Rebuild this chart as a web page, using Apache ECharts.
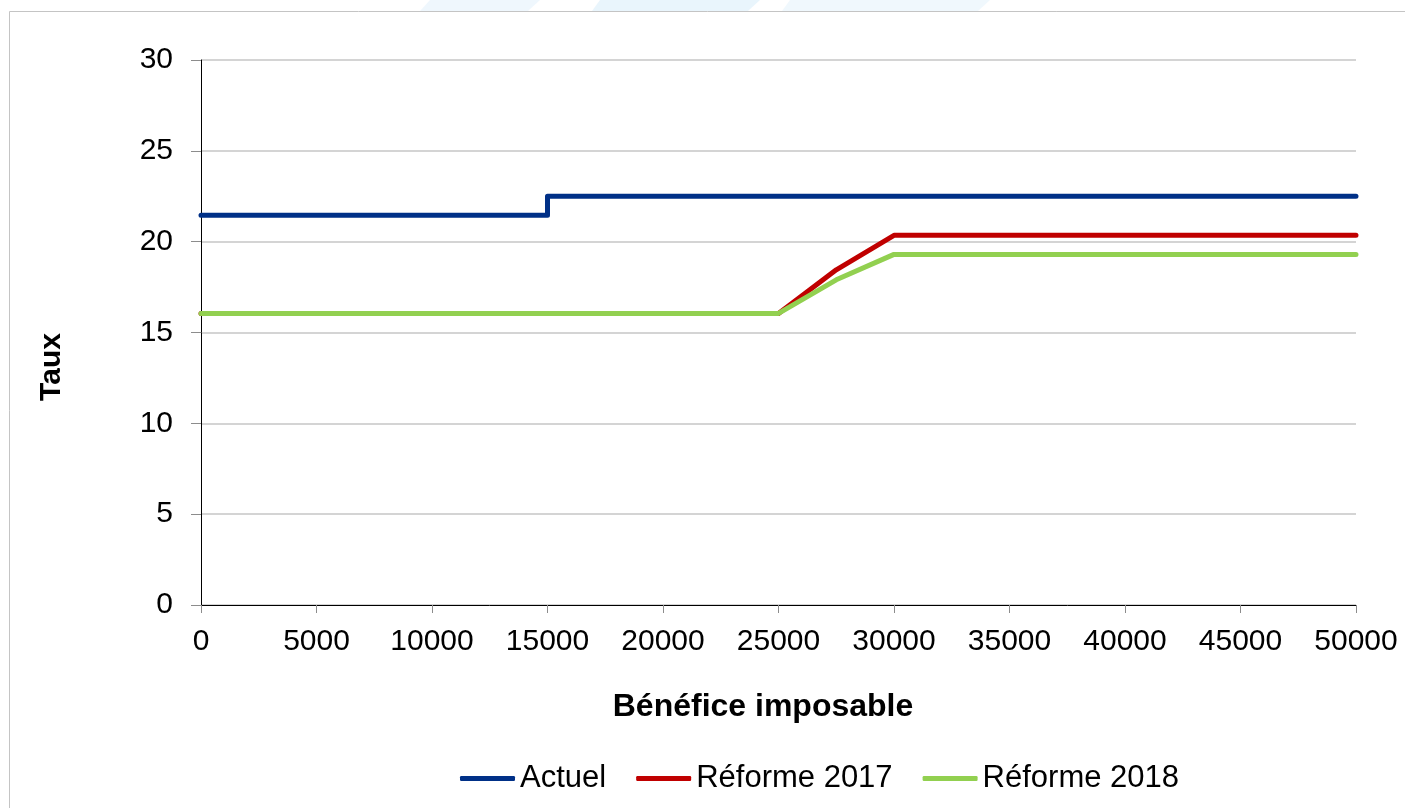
<!DOCTYPE html>
<html>
<head>
<meta charset="utf-8">
<script src="https://cdn.jsdelivr.net/npm/echarts@6/dist/echarts.min.js"></script>
<style>
  html, body { margin: 0; padding: 0; background: #ffffff; }
  #chart { width: 1405px; height: 808px; }
</style>
</head>
<body>
<div id="chart"></div>
<script>
// Taux d'imposition selon le bénéfice imposable
const seriesNames = ['Actuel', 'Réforme 2017', 'Réforme 2018'];

const beneficeActuel = [0, 15000, 15000, 50000];
const tauxActuel = [21.45, 21.45, 22.5, 22.5];

const beneficeReforme = [0, 25000, 27500, 30000, 50000];
const taux2017 = [16.05, 16.05, 18.45, 20.35, 20.35];
const taux2018 = [16.05, 16.05, 17.9, 19.3, 19.3];

const xTicks = { min: 0, max: 50000, interval: 5000 };
const yTicks = { min: 0, max: 30, interval: 5 };

const colors = ['#003087', '#C00000', '#92D050'];
const FONT = '"Liberation Sans", Arial, sans-serif';

function pairs(xs, ys) {
  return xs.map((x, i) => [x, ys[i]]);
}

const chart = echarts.init(document.getElementById('chart'), null, { renderer: 'canvas' });

const lineSeries = [
  pairs(beneficeActuel, tauxActuel),
  pairs(beneficeReforme, taux2017),
  pairs(beneficeReforme, taux2018)
].map((data, i) => ({
  name: seriesNames[i],
  type: 'line',
  data: data,
  symbol: 'none',
  smooth: false,
  lineStyle: { color: colors[i], width: 5, cap: 'round', join: 'round' },
  itemStyle: { color: colors[i] },
  z: 3 + i
}));

chart.setOption({
  animation: false,
  backgroundColor: '#ffffff',
  textStyle: { fontFamily: FONT },
  graphic: [
    // soft blue banner strip above the frame
    {
      type: 'polygon', silent: true,
      shape: { points: [[430, 0], [540, 0], [528, 11], [420, 11]] },
      style: { fill: 'rgba(120,190,235,0.12)' }
    },
    {
      type: 'polygon', silent: true,
      shape: { points: [[600, 0], [760, 0], [748, 11], [592, 11]] },
      style: { fill: 'rgba(120,190,235,0.16)' }
    },
    {
      type: 'polygon', silent: true,
      shape: { points: [[790, 0], [990, 0], [978, 11], [782, 11]] },
      style: { fill: 'rgba(120,190,235,0.11)' }
    },
    // frame
    {
      type: 'rect', silent: true,
      shape: { x: 9.5, y: 11.5, width: 1500, height: 900 },
      style: { fill: 'none', stroke: '#c4c4c4', lineWidth: 1 }
    },
    // axis titles
    {
      type: 'text', silent: true,
      x: 763, y: 707,
      style: {
        text: 'Bénéfice imposable', x: 0, y: 0,
        align: 'center', verticalAlign: 'middle',
        font: 'bold 32px ' + FONT, fill: '#000000'
      }
    },
    {
      type: 'text', silent: true,
      x: 52, y: 367, rotation: Math.PI / 2,
      style: {
        text: 'Taux', x: 0, y: 0,
        align: 'center', verticalAlign: 'middle',
        font: 'bold 30px ' + FONT, fill: '#000000'
      }
    }
  ],
  legend: {
    data: seriesNames,
    left: 460,
    top: 763,
    padding: 0,
    itemWidth: 55,
    itemHeight: 5,
    itemGap: 30,
    icon: 'roundRect',
    textStyle: { fontFamily: FONT, fontSize: 31, color: '#000000' }
  },
  grid: { left: 201, right: 49, top: 60, bottom: 203, containLabel: false },
  xAxis: {
    type: 'value',
    min: xTicks.min, max: xTicks.max, interval: xTicks.interval,
    axisLine: { show: true, lineStyle: { color: '#000000', width: 1 } },
    axisTick: { show: true, length: 8, lineStyle: { color: '#8c8c8c', width: 1 } },
    axisLabel: {
      fontFamily: FONT, fontSize: 30, color: '#000000', margin: 22,
      formatter: (v) => String(v)
    },
    splitLine: { show: false }
  },
  yAxis: {
    type: 'value',
    min: yTicks.min, max: yTicks.max, interval: yTicks.interval,
    axisLine: { show: true, lineStyle: { color: '#000000', width: 1 } },
    axisTick: { show: true, length: 10, lineStyle: { color: '#8c8c8c', width: 1 } },
    axisLabel: {
      fontFamily: FONT, fontSize: 30, color: '#000000', margin: 28,
      formatter: (v) => String(v)
    },
    splitLine: { show: true, lineStyle: { color: '#d4d4d4', width: 2 } }
  },
  series: lineSeries
});
</script>
</body>
</html>
